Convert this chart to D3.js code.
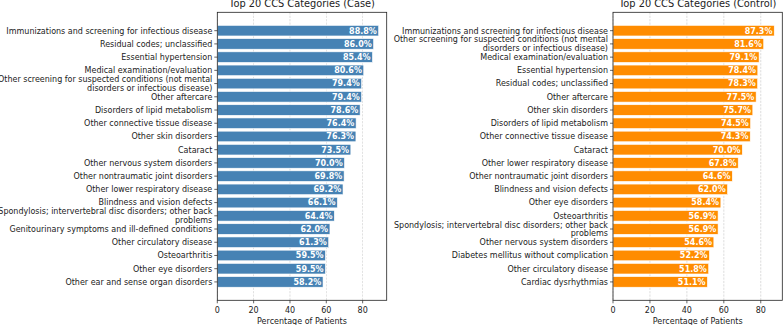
<!DOCTYPE html>
<html>
<head>
<meta charset="utf-8">
<script src="https://cdn.jsdelivr.net/npm/d3@7"></script>
<style>
  body { margin: 0; background: white; }
  svg { display: block; font-family: "DejaVu Sans", sans-serif; }
</style>
</head>
<body>
<svg id="chart" width="783" height="325"></svg>
<script>
// Case panel
const case_categories = [
    "Immunizations and screening for infectious disease",
    "Residual codes; unclassified",
    "Essential hypertension",
    "Medical examination/evaluation",
    "Other screening for suspected conditions (not mental disorders or infectious disease)",
    "Other aftercare",
    "Disorders of lipid metabolism",
    "Other connective tissue disease",
    "Other skin disorders",
    "Cataract",
    "Other nervous system disorders",
    "Other nontraumatic joint disorders",
    "Other lower respiratory disease",
    "Blindness and vision defects",
    "Spondylosis; intervertebral disc disorders; other back problems",
    "Genitourinary symptoms and ill-defined conditions",
    "Other circulatory disease",
    "Osteoarthritis",
    "Other eye disorders",
    "Other ear and sense organ disorders"
]
const case_values = [88.8, 86.0, 85.4, 80.6, 79.4, 79.4, 78.6, 76.4, 76.3, 73.5,
    70.0, 69.8, 69.2, 66.1, 64.4, 62.0, 61.3, 59.5, 59.5, 58.2]

// Control panel
const control_categories = [
    "Immunizations and screening for infectious disease",
    "Other screening for suspected conditions (not mental disorders or infectious disease)",
    "Medical examination/evaluation",
    "Essential hypertension",
    "Residual codes; unclassified",
    "Other aftercare",
    "Other skin disorders",
    "Disorders of lipid metabolism",
    "Other connective tissue disease",
    "Cataract",
    "Other lower respiratory disease",
    "Other nontraumatic joint disorders",
    "Blindness and vision defects",
    "Other eye disorders",
    "Osteoarthritis",
    "Spondylosis; intervertebral disc disorders; other back problems",
    "Other nervous system disorders",
    "Diabetes mellitus without complication",
    "Other circulatory disease",
    "Cardiac dysrhythmias"
]
const control_values = [87.3, 81.6, 79.1, 78.4, 78.3, 77.5, 75.7, 74.5, 74.3, 70.0,
    67.8, 64.6, 62.0, 58.4, 56.9, 56.9, 54.6, 52.2, 51.8, 51.1]

const x_ticks = [0, 20, 40, 60, 80]

const svg = d3.select("#chart")

// wrap a label greedily, like textwrap
function wrap_label(label, width = 55) {
    const words = label.split(" ")
    const lines = []
    let line = ""
    words.forEach(function(w) {
        if (line.length === 0) { line = w }
        else if ((line + " " + w).length <= width) { line += " " + w }
        else { lines.push(line); line = w }
    })
    if (line.length) lines.push(line)
    return lines
}

function draw_panel(categories, values, title, color, left, right, top = 12.3, bottom = 300.3) {
    const n = categories.length
    const x_max = d3.max(values) * 1.05
    const x = d3.scaleLinear().domain([0, x_max]).range([left, right])
    // matplotlib barh: bars of height 0.8, 5% margin on each side
    const span = (n - 1) + 0.8
    const pad = span * 0.05
    const y = d3.scaleLinear()
        .domain([-0.4 - pad, n - 1 + 0.4 + pad])
        .range([top, bottom])

    const g = svg.append("g")

    // grid
    g.selectAll(".grid")
        .data(x_ticks)
        .enter()
        .append("line")
        .attr("x1", d => x(d))
        .attr("x2", d => x(d))
        .attr("y1", top)
        .attr("y2", bottom)
        .attr("stroke", "#b0b0b0")
        .attr("stroke-width", 0.6)
        .attr("stroke-dasharray", "2.2,1.2")
        .attr("opacity", 0.7)

    // bars
    g.selectAll(".bar")
        .data(values)
        .enter()
        .append("rect")
        .attr("x", x(0))
        .attr("y", (d, i) => y(i - 0.4))
        .attr("width", d => x(d) - x(0))
        .attr("height", y(0.4) - y(-0.4))
        .attr("fill", color)
        .attr("stroke", "white")
        .attr("stroke-width", 0.6)

    // value labels inside bars
    g.selectAll(".val")
        .data(values)
        .enter()
        .append("text")
        .attr("x", d => x(d) - 1.8)
        .attr("y", (d, i) => y(i))
        .attr("dy", "0.36em")
        .attr("text-anchor", "end")
        .attr("fill", "white")
        .attr("font-weight", "bold")
        .attr("font-size", "8px")
        .text(d => d.toFixed(1) + "%")

    // frame
    g.append("rect")
        .attr("x", left)
        .attr("y", top)
        .attr("width", right - left)
        .attr("height", bottom - top)
        .attr("fill", "none")
        .attr("stroke", "#222")
        .attr("stroke-width", 0.8)

    // y ticks and labels
    categories.forEach(function(c, i) {
        const yy = y(i)
        g.append("line")
            .attr("x1", left - 3)
            .attr("x2", left)
            .attr("y1", yy)
            .attr("y2", yy)
            .attr("stroke", "#222")
            .attr("stroke-width", 0.7)
        const lines = wrap_label(c)
        const line_h = 8.8
        const t = g.append("text")
            .attr("text-anchor", "end")
            .attr("font-size", "8px")
            .attr("fill", "#222")
        lines.forEach(function(l, k) {
            t.append("tspan")
                .attr("x", left - 5)
                .attr("y", yy + (k - (lines.length - 1) / 2) * line_h)
                .attr("dy", "0.36em")
                .text(l)
        })
    })

    // x ticks
    x_ticks.forEach(function(tk) {
        g.append("line")
            .attr("x1", x(tk))
            .attr("x2", x(tk))
            .attr("y1", bottom)
            .attr("y2", bottom + 3)
            .attr("stroke", "#222")
            .attr("stroke-width", 0.7)
        g.append("text")
            .attr("x", x(tk))
            .attr("y", bottom + 12.5)
            .attr("text-anchor", "middle")
            .attr("font-size", "8px")
            .attr("fill", "#222")
            .text(tk)
    })

    // axis title
    g.append("text")
        .attr("x", (left + right) / 2)
        .attr("y", bottom + 23.5)
        .attr("text-anchor", "middle")
        .attr("font-size", "8px")
        .attr("fill", "#222")
        .text("Percentage of Patients")

    // title
    g.append("text")
        .attr("x", (left + right) / 2)
        .attr("y", top - 5.3)
        .attr("text-anchor", "middle")
        .attr("font-size", "9.8px")
        .attr("fill", "#222")
        .text(title)
}

draw_panel(case_categories, case_values, "Top 20 CCS Categories (Case)", "#4682b4", 217.3, 386.7)
draw_panel(control_categories, control_values, "Top 20 CCS Categories (Control)", "#ff8c00", 613, 782.3)
</script>
</body>
</html>
